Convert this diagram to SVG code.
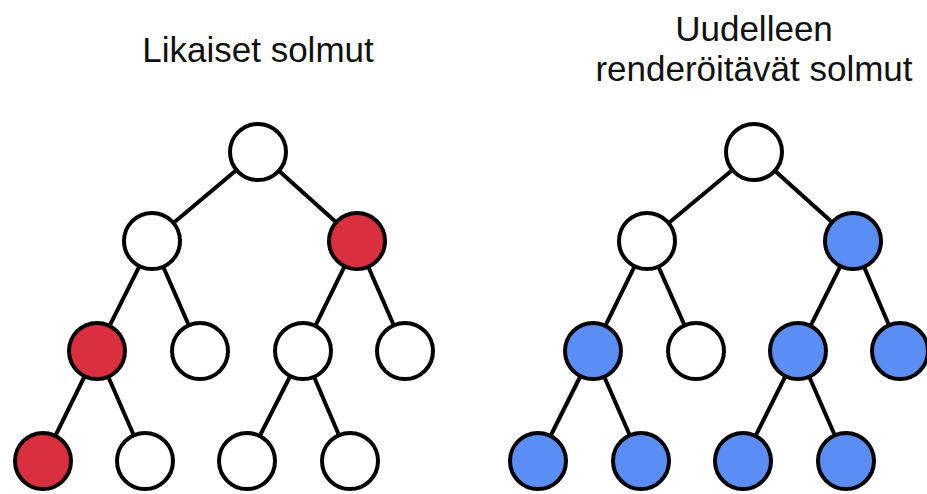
<svg xmlns="http://www.w3.org/2000/svg" width="927" height="494" viewBox="0 0 927 494">
  <style>
    .title { font-family: "Liberation Sans", Arial, sans-serif; font-size: 35px; fill: #111; text-anchor: middle; }
    .edge { stroke: #000; stroke-width: 4; fill: none; }
    .node { stroke: #000; stroke-width: 4; }
    .plain { fill: #fff; }
    .dirty { fill: #d92f3e; }
    .redraw { fill: #5a8ef4; }
  </style>
  <rect width="927" height="494" fill="#fff"/>

  <text class="title" x="258" y="62">Likaiset solmut</text>
  <text class="title" x="754" y="41">Uudelleen</text>
  <text class="title" x="754" y="81">renderöitävät solmut</text>

  <!-- tree edges -->
  <g id="connectors">
    <!-- left tree -->
    <line class="edge" x1="258" y1="152" x2="152" y2="241"/>
    <line class="edge" x1="258" y1="152" x2="357" y2="241"/>
    <line class="edge" x1="152" y1="241" x2="97" y2="351"/>
    <line class="edge" x1="152" y1="241" x2="200" y2="351"/>
    <line class="edge" x1="357" y1="241" x2="303" y2="351"/>
    <line class="edge" x1="357" y1="241" x2="405" y2="351"/>
    <line class="edge" x1="97" y1="351" x2="43" y2="461"/>
    <line class="edge" x1="97" y1="351" x2="145" y2="461"/>
    <line class="edge" x1="303" y1="351" x2="247" y2="461"/>
    <line class="edge" x1="303" y1="351" x2="350" y2="461"/>
    <!-- right tree -->
    <line class="edge" x1="754" y1="152" x2="647" y2="241"/>
    <line class="edge" x1="754" y1="152" x2="853" y2="241"/>
    <line class="edge" x1="647" y1="241" x2="593" y2="351"/>
    <line class="edge" x1="647" y1="241" x2="696" y2="351"/>
    <line class="edge" x1="853" y1="241" x2="798" y2="351"/>
    <line class="edge" x1="853" y1="241" x2="900" y2="351"/>
    <line class="edge" x1="593" y1="351" x2="538" y2="461"/>
    <line class="edge" x1="593" y1="351" x2="641" y2="461"/>
    <line class="edge" x1="798" y1="351" x2="743" y2="461"/>
    <line class="edge" x1="798" y1="351" x2="846" y2="461"/>
  </g>

  <!-- left tree nodes -->
  <g id="L-root"><circle class="node plain" cx="258" cy="152" r="28"/></g>
  <g id="L-a"><circle class="node plain" cx="152" cy="241" r="28"/></g>
  <g id="L-b"><circle class="node dirty" cx="357" cy="241" r="28"/></g>
  <g id="L-aa"><circle class="node dirty" cx="97" cy="351" r="28"/></g>
  <g id="L-ab"><circle class="node plain" cx="200" cy="351" r="28"/></g>
  <g id="L-ba"><circle class="node plain" cx="303" cy="351" r="28"/></g>
  <g id="L-bb"><circle class="node plain" cx="405" cy="351" r="28"/></g>
  <g id="L-aaa"><circle class="node dirty" cx="43" cy="461" r="28"/></g>
  <g id="L-aab"><circle class="node plain" cx="145" cy="461" r="28"/></g>
  <g id="L-baa"><circle class="node plain" cx="247" cy="461" r="28"/></g>
  <g id="L-bab"><circle class="node plain" cx="350" cy="461" r="28"/></g>

  <!-- right tree nodes -->
  <g id="R-root"><circle class="node plain" cx="754" cy="152" r="28"/></g>
  <g id="R-a"><circle class="node plain" cx="647" cy="241" r="28"/></g>
  <g id="R-b"><circle class="node redraw" cx="853" cy="241" r="28"/></g>
  <g id="R-aa"><circle class="node redraw" cx="593" cy="351" r="28"/></g>
  <g id="R-ab"><circle class="node plain" cx="696" cy="351" r="28"/></g>
  <g id="R-ba"><circle class="node redraw" cx="798" cy="351" r="28"/></g>
  <g id="R-bb"><circle class="node redraw" cx="900" cy="351" r="28"/></g>
  <g id="R-aaa"><circle class="node redraw" cx="538" cy="461" r="28"/></g>
  <g id="R-aab"><circle class="node redraw" cx="641" cy="461" r="28"/></g>
  <g id="R-baa"><circle class="node redraw" cx="743" cy="461" r="28"/></g>
  <g id="R-bab"><circle class="node redraw" cx="846" cy="461" r="28"/></g>
</svg>
